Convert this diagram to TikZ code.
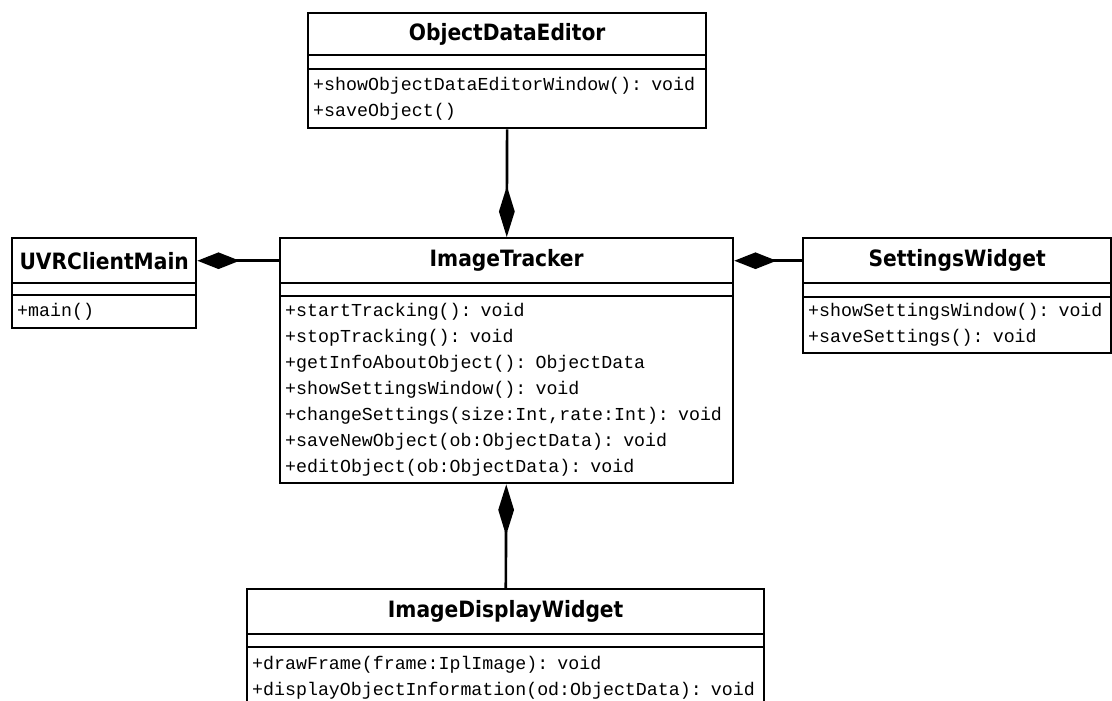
\documentclass[tikz,border=0pt]{standalone}
\usepackage{fontspec}
\newfontfamily\titlefont{DejaVu Sans Condensed Bold}
\newfontfamily\monofont{Liberation Mono}
\usetikzlibrary{arrows.meta}
\tikzstyle{classname} = [rectangle, draw=black, line width=1.4pt, anchor=north west, minimum height=0.9cm, inner sep=0pt, font=\titlefont\fontsize{12.8}{14}\selectfont]
\tikzstyle{attrs} = [rectangle, draw=black, line width=1.4pt, anchor=north west, minimum height=0.26cm, inner sep=0pt]
\tikzstyle{methods} = [rectangle, draw=black, line width=1.4pt, anchor=north west, inner xsep=0.1cm, inner ysep=1pt, align=left, font=\monofont\fontsize{10.4}{14.8}\selectfont]
\tikzstyle{comp} = [line width=1.5pt, -{Diamond[length=24pt,width=9.5pt]}]
\tikzstyle{vcomp} = [line width=1.5pt, -{Diamond[length=29pt,width=9pt]}]

\begin{document}
\begin{tikzpicture}[x=0.02cm, y=-0.02cm]
\useasboundingbox (0,0) rectangle (1112,700);
\clip (0,0) rectangle (1112,700);

% ObjectDataEditor
\node at (307,12) (ode) [classname, minimum width=7.96cm, minimum height=0.84cm] {ObjectDataEditor};
\node at (307,54) (odeattr) [attrs, minimum width=7.96cm, minimum height=0.28cm] {};
\node at (307,68) (odemeth) [methods, text width=7.76cm, minimum height=1.18cm] {+showObjectDataEditorWindow(): void\\+saveObject()};

% UVRClientMain
\node at (11,237) (uvr) [classname, minimum width=3.68cm] {UVRClientMain};
\node at (11,282) (uvrattr) [attrs, minimum width=3.68cm, minimum height=0.24cm] {};
\node at (11,294) (uvrmeth) [methods, text width=3.48cm, minimum height=0.66cm] {+main()};

% ImageTracker
\node at (279,237) (it) [classname, minimum width=9.06cm] {ImageTracker};
\node at (279,282) (itattr) [attrs, minimum width=9.06cm] {};
\node at (279,295) (itmeth) [methods, text width=8.86cm, minimum height=3.74cm] {+startTracking(): void\\+stopTracking(): void\\+getInfoAboutObject(): ObjectData\\+showSettingsWindow(): void\\+changeSettings(size:Int,rate:Int): void\\+saveNewObject(ob:ObjectData): void\\+editObject(ob:ObjectData): void};

% SettingsWidget
\node at (802,237) (sw) [classname, minimum width=6.16cm] {SettingsWidget};
\node at (802,282) (swattr) [attrs, minimum width=6.16cm, minimum height=0.28cm] {};
\node at (802,296) (swmeth) [methods, text width=5.96cm, minimum height=1.12cm] {+showSettingsWindow(): void\\+saveSettings(): void};

% ImageDisplayWidget
\node at (246,588) (idw) [classname, minimum width=10.34cm] {ImageDisplayWidget};
\node at (246,633) (idwattr) [attrs, minimum width=10.34cm] {};
\node at (246,646) (idwmeth) [methods, text width=10.14cm, minimum height=1.24cm] {+drawFrame(frame:IplImage): void\\+displayObjectInformation(od:ObjectData): void};

\draw [vcomp] (odemeth) -- (it);
\draw [comp] (it) -- (uvr);
\draw [comp] (sw) -- (it);
\draw [vcomp] (idw) -- (itmeth);

\end{tikzpicture}
\end{document}
